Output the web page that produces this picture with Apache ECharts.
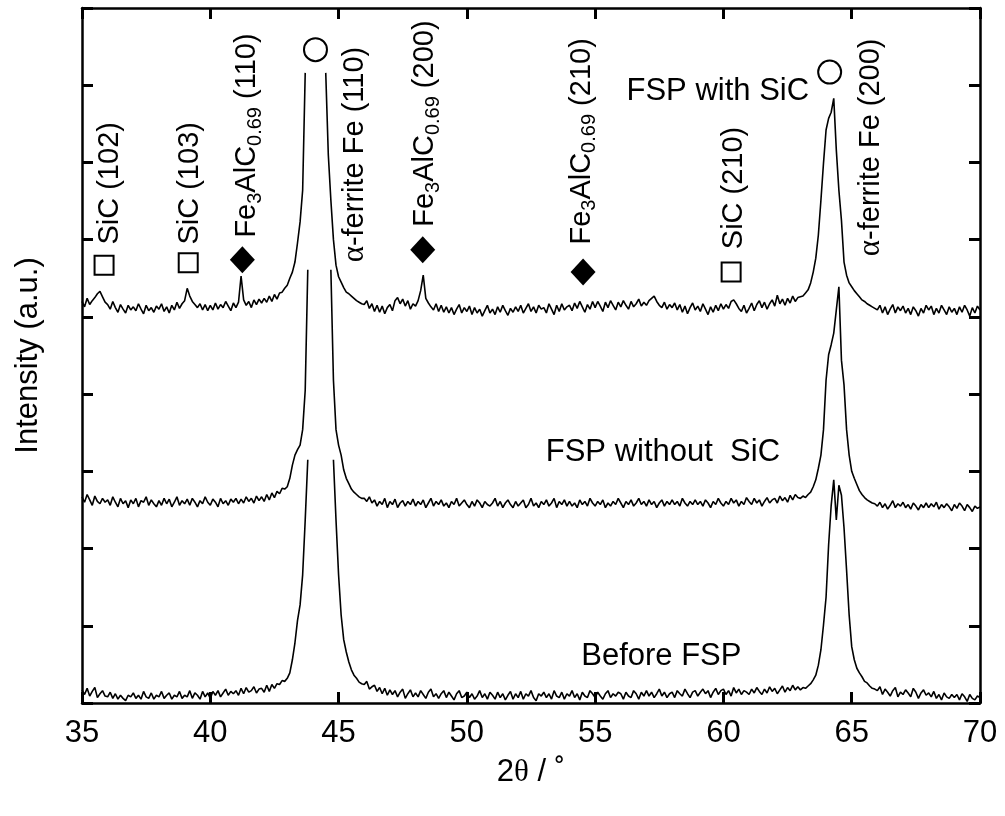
<!DOCTYPE html>
<html>
<head>
<meta charset="utf-8">
<script src="https://cdn.jsdelivr.net/npm/echarts@6/dist/echarts.min.js"></script>
<style>html,body{margin:0;padding:0;background:#fff;}#c{width:1005px;height:816px;}</style>
</head>
<body>
<div id="c"></div>
<script>
// 2-theta scan positions (degrees)
const angles = [
35.0,35.1,35.2,35.3,35.4,35.5,35.6,35.7,35.8,35.9,
36.0,36.1,36.2,36.3,36.4,36.5,36.6,36.7,36.8,36.9,
37.0,37.1,37.2,37.3,37.4,37.5,37.6,37.7,37.8,37.9,
38.0,38.1,38.2,38.3,38.4,38.5,38.6,38.7,38.8,38.9,
39.0,39.1,39.2,39.3,39.4,39.5,39.6,39.7,39.8,39.9,
40.0,40.1,40.2,40.3,40.4,40.5,40.6,40.7,40.8,40.9,
41.0,41.1,41.2,41.3,41.4,41.5,41.6,41.7,41.8,41.9,
42.0,42.1,42.2,42.3,42.4,42.5,42.6,42.7,42.8,42.9,
43.0,43.1,43.2,43.3,43.4,43.5,43.6,43.7,43.8,43.9,
44.0,44.1,44.2,44.3,44.4,44.5,44.6,44.7,44.8,44.9,
45.0,45.1,45.2,45.3,45.4,45.5,45.6,45.7,45.8,45.9,
46.0,46.1,46.2,46.3,46.4,46.5,46.6,46.7,46.8,46.9,
47.0,47.1,47.2,47.3,47.4,47.5,47.6,47.7,47.8,47.9,
48.0,48.1,48.2,48.3,48.4,48.5,48.6,48.7,48.8,48.9,
49.0,49.1,49.2,49.3,49.4,49.5,49.6,49.7,49.8,49.9,
50.0,50.1,50.2,50.3,50.4,50.5,50.6,50.7,50.8,50.9,
51.0,51.1,51.2,51.3,51.4,51.5,51.6,51.7,51.8,51.9,
52.0,52.1,52.2,52.3,52.4,52.5,52.6,52.7,52.8,52.9,
53.0,53.1,53.2,53.3,53.4,53.5,53.6,53.7,53.8,53.9,
54.0,54.1,54.2,54.3,54.4,54.5,54.6,54.7,54.8,54.9,
55.0,55.1,55.2,55.3,55.4,55.5,55.6,55.7,55.8,55.9,
56.0,56.1,56.2,56.3,56.4,56.5,56.6,56.7,56.8,56.9,
57.0,57.1,57.2,57.3,57.4,57.5,57.6,57.7,57.8,57.9,
58.0,58.1,58.2,58.3,58.4,58.5,58.6,58.7,58.8,58.9,
59.0,59.1,59.2,59.3,59.4,59.5,59.6,59.7,59.8,59.9,
60.0,60.1,60.2,60.3,60.4,60.5,60.6,60.7,60.8,60.9,
61.0,61.1,61.2,61.3,61.4,61.5,61.6,61.7,61.8,61.9,
62.0,62.1,62.2,62.3,62.4,62.5,62.6,62.7,62.8,62.9,
63.0,63.1,63.2,63.3,63.4,63.5,63.6,63.7,63.8,63.9,
64.0,64.1,64.2,64.3,64.4,64.5,64.6,64.7,64.8,64.9,
65.0,65.1,65.2,65.3,65.4,65.5,65.6,65.7,65.8,65.9,
66.0,66.1,66.2,66.3,66.4,66.5,66.6,66.7,66.8,66.9,
67.0,67.1,67.2,67.3,67.4,67.5,67.6,67.7,67.8,67.9,
68.0,68.1,68.2,68.3,68.4,68.5,68.6,68.7,68.8,68.9,
69.0,69.1,69.2,69.3,69.4,69.5,69.6,69.7,69.8,69.9,
70.0];

// Intensity (a.u., stacked as plotted); null = off-scale top of peak
const beforeFSP = [
17,11,19,9,15,20,7,12,16,9,
8,14,6,12,5,10,6,3,10,8,
13,6,10,5,15,8,6,13,5,10,
8,15,6,10,13,5,10,8,15,6,
10,8,16,6,13,10,5,15,8,13,
6,15,10,16,8,13,18,10,15,12,
16,10,19,12,20,14,16,21,13,18,
19,14,23,15,24,19,25,24,29,28,
32,39,56,78,107,127,166,237,315,null,
null,null,null,null,null,null,null,null,315,237,
166,114,82,66,53,43,36,32,27,25,
24,28,18,21,23,15,20,12,19,10,
17,11,16,8,14,18,6,12,17,8,
13,8,16,11,6,14,18,8,12,6,
12,16,7,14,9,4,12,16,7,9,
14,7,12,5,9,16,7,12,5,14,
10,5,14,7,12,4,10,15,5,12,
7,15,5,12,9,16,7,3,12,9,
14,7,12,5,16,9,7,14,5,12,
9,16,7,12,4,14,9,7,16,12,
7,14,9,5,12,16,7,12,9,14,
12,5,14,9,7,16,12,5,14,9,
16,9,14,7,12,18,9,14,7,12,
14,7,16,12,9,18,12,7,14,16,
9,14,18,12,16,7,14,19,11,16,
18,11,16,9,20,13,18,11,16,14,
11,18,13,20,15,11,18,13,21,15,
19,12,17,22,14,20,16,23,17,21,
17,20,19,22,25,30,36,49,69,101,
137,205,256,289,237,282,269,227,172,114,
73,56,45,39,34,28,26,22,19,18,
16,21,11,18,14,9,16,20,8,14,
11,17,13,8,19,14,6,13,17,10,
13,8,15,6,11,4,13,8,6,11,
7,11,4,12,8,2,11,6,4,9,
7];

const withoutSiC = [
267,260,270,263,256,268,261,258,265,260,
263,256,267,260,254,265,258,262,253,263,
258,265,254,262,260,267,256,263,258,254,
262,256,265,258,264,254,260,267,256,262,
258,264,256,265,260,254,262,258,267,260,
256,264,260,254,265,258,262,256,264,260,
265,258,264,259,267,261,265,259,268,262,
267,261,270,263,272,266,274,271,278,277,
280,291,308,321,328,334,354,405,561,null,
null,null,null,null,null,null,null,561,418,354,
334,321,302,291,284,277,273,270,267,265,
265,261,267,259,263,255,261,257,265,253,
261,257,264,253,259,262,255,261,257,264,
255,261,257,263,253,259,265,255,261,257,
263,255,259,253,261,257,265,255,259,263,
257,253,261,255,263,259,253,261,257,255,
259,265,255,261,253,259,263,257,253,261,
255,259,263,253,257,265,255,259,253,261,
257,263,255,259,265,253,261,257,263,255,
261,255,259,253,263,257,261,255,265,259,
255,261,257,263,253,259,255,261,257,265,
259,253,261,257,263,255,259,265,257,261,
255,263,257,261,253,259,263,255,261,257,
263,257,261,255,265,259,255,261,257,263,
257,261,255,263,259,253,261,257,265,259,
255,261,257,265,259,263,255,261,257,266,
261,257,265,259,263,255,261,266,259,263,
265,259,268,262,266,260,269,263,270,266,
265,268,266,270,273,280,289,304,321,354,
418,451,464,479,509,539,444,412,354,321,
300,291,283,275,270,266,263,261,259,258,
255,260,253,258,251,256,262,253,258,255,
260,253,257,251,259,255,250,257,253,259,
253,258,254,260,251,257,253,258,254,249,
257,252,259,255,249,257,253,248,255,252,
254];

const withSiC = [
520,513,524,516,521,525,530,533,526,519,
516,510,520,512,506,516,510,505,515,509,
513,508,517,510,504,515,508,512,506,514,
510,517,507,513,505,515,509,519,511,517,
521,537,527,520,516,512,517,509,516,508,
515,509,518,510,516,512,520,514,508,518,
512,519,553,522,515,520,512,522,516,523,
518,524,519,527,520,529,523,531,532,537,
541,550,558,571,596,623,664,816,null,null,
null,null,null,null,null,816,710,651,600,567,
552,545,538,532,530,527,524,521,519,517,
516,521,511,517,507,515,506,514,504,512,
516,508,521,525,517,523,514,521,510,517,
514,521,534,554,524,518,513,509,517,507,
515,506,513,505,512,503,510,516,505,512,
507,514,503,512,505,510,501,508,515,505,
510,503,513,506,515,508,502,511,506,513,
507,515,505,511,517,507,513,505,515,510,
512,505,517,510,503,515,507,517,509,513,
515,508,518,511,520,513,506,516,510,520,
512,520,514,507,519,512,521,515,509,519,
513,521,515,510,520,513,517,523,514,519,
515,521,524,527,520,515,512,519,510,516,
512,518,509,516,506,514,504,512,518,509,
514,507,517,510,503,513,506,515,508,517,
510,516,511,520,522,517,511,507,515,505,
511,518,508,516,521,512,519,510,517,522,
514,528,517,523,515,524,518,527,520,525,
526,527,531,535,544,558,576,606,651,699,
742,757,765,783,716,664,625,571,554,544,
539,534,530,526,522,520,517,515,513,511,
509,515,505,513,503,510,516,505,513,508,
514,505,511,503,513,508,501,511,505,515,
509,514,503,511,505,515,509,503,513,506,
511,503,513,506,515,509,501,512,505,514,
509];

// x-axis tick values
const xTicks = [35, 40, 45, 50, 55, 60, 65, 70];

// Phase markers: [2theta, height]
const sicPeaks = [[35.86, 567], [39.14, 570], [60.3, 558]];
const fe3alcPeaks = [[41.25, 574], [48.28, 587], [54.53, 558]];
const ferritePeaks = [[44.1, 846], [64.14, 817]];

// Peak annotations (rotated), anchored at text start: [2theta, height, text]
const peakLabels = [
  [36.13, 593, '{m|SiC (102)}'],
  [39.22, 593, '{m|SiC (103)}'],
  [41.45, 602, '{m|Fe}{s|3}{m|AlC}{s|0.69}{m| (110)}'],
  [45.66, 570, '{a|α}{m|-ferrite Fe (110)}'],
  [48.40, 616, '{m|Fe}{s|3}{m|AlC}{s|0.69}{m| (200)}'],
  [54.49, 593, '{m|Fe}{s|3}{m|AlC}{s|0.69}{m| (210)}'],
  [60.43, 587, '{m|SiC (210)}'],
  [65.78, 578, '{a|α}{m|-ferrite Fe (200)}']
];
// Sample names: [2theta, height, text]
const sampleLabels = [
  [59.8, 791, 'FSP with SiC'],
  [57.66, 324, 'FSP without  SiC'],
  [57.6, 60, 'Before FSP']
];

const FONT = 'Liberation Sans';
const toLine = vals => angles.map((a, i) => [a, vals[i] === null ? '-' : vals[i]]);

const richPeak = {
  m: { fontSize: 29, fontFamily: FONT, color: '#000' },
  s: { fontSize: 20, fontFamily: FONT, color: '#000', padding: [16, 0, 0, 0] },
  a: { fontSize: 31, fontFamily: 'Liberation Serif', color: '#000' }
};

const axisTickStyle = { show: true, inside: true, length: 11, lineStyle: { color: '#000', width: 3 } };
const axisLineStyle = { show: true, onZero: false, lineStyle: { color: '#000', width: 2.5 } };

const lineSeries = (name, vals) => ({
  name, type: 'line', data: toLine(vals), showSymbol: false, symbol: 'none',
  connectNulls: false, lineStyle: { color: '#000', width: 1.6, opacity: 1 }, silent: true, z: 3
});

const option = {
  animation: false,
  backgroundColor: '#fff',
  grid: { left: 82, right: 25, top: 8, bottom: 113, containLabel: false },
  xAxis: [
    {
      type: 'value', position: 'bottom', min: 35, max: 70, interval: 5,
      axisLine: axisLineStyle, axisTick: axisTickStyle, splitLine: { show: false },
      axisLabel: { show: true, fontSize: 31, fontFamily: FONT, color: '#000', margin: 15,
        customValues: xTicks },
      name: '2{t|θ} / ˚', nameLocation: 'middle', nameGap: 54,
      nameTextStyle: { fontSize: 31, fontFamily: FONT, color: '#000',
        rich: { t: { fontSize: 31, fontFamily: 'Liberation Serif', color: '#000' } } }
    },
    {
      type: 'value', position: 'top', min: 35, max: 70, interval: 5,
      axisLine: axisLineStyle, axisTick: axisTickStyle, splitLine: { show: false },
      axisLabel: { show: false }
    }
  ],
  yAxis: [
    {
      type: 'value', position: 'left', min: 0, max: 900, interval: 100,
      axisLine: axisLineStyle, axisTick: axisTickStyle, splitLine: { show: false },
      axisLabel: { show: false },
      name: 'Intensity (a.u.)', nameLocation: 'middle', nameGap: 38,
      nameTextStyle: { fontSize: 31, fontFamily: FONT, color: '#000' }
    },
    {
      type: 'value', position: 'right', min: 0, max: 900, interval: 100,
      axisLine: axisLineStyle, axisTick: axisTickStyle, splitLine: { show: false },
      axisLabel: { show: false }
    }
  ],
  series: [
    lineSeries('Before FSP', beforeFSP),
    lineSeries('FSP without SiC', withoutSiC),
    lineSeries('FSP with SiC', withSiC),
    {
      type: 'scatter', data: sicPeaks, symbol: 'rect', symbolSize: 19, silent: true, z: 4,
      itemStyle: { color: '#fff', borderColor: '#000', borderWidth: 2, opacity: 1 }
    },
    {
      type: 'scatter', data: fe3alcPeaks, symbol: 'diamond', symbolSize: [25, 27], silent: true, z: 4,
      itemStyle: { color: '#000', opacity: 1 }
    },
    {
      type: 'scatter', data: ferritePeaks, symbol: 'circle', symbolSize: 23, silent: true, z: 4,
      itemStyle: { color: '#fff', borderColor: '#000', borderWidth: 2, opacity: 1 }
    },
    {
      type: 'scatter', silent: true, z: 5, symbol: 'circle', symbolSize: 1,
      itemStyle: { color: 'rgba(0,0,0,0)', opacity: 1 },
      data: peakLabels.map(d => ({ value: [d[0], d[1]], text: d[2] })),
      label: {
        show: true, position: [0, 0], align: 'left', verticalAlign: 'middle', rotate: 90,
        opacity: 1, formatter: p => p.data.text, rich: richPeak
      }
    },
    {
      type: 'scatter', silent: true, z: 5, symbol: 'circle', symbolSize: 1,
      itemStyle: { color: 'rgba(0,0,0,0)', opacity: 1 },
      data: sampleLabels.map(d => ({ value: [d[0], d[1]], text: d[2] })),
      label: {
        show: true, position: [0, 0], align: 'center', verticalAlign: 'middle', opacity: 1,
        formatter: p => p.data.text, fontSize: 31, fontFamily: FONT, color: '#000'
      }
    }
  ]
};

const chart = echarts.init(document.getElementById('c'), null, { renderer: 'canvas' });
chart.setOption(option);
</script>
</body>
</html>
